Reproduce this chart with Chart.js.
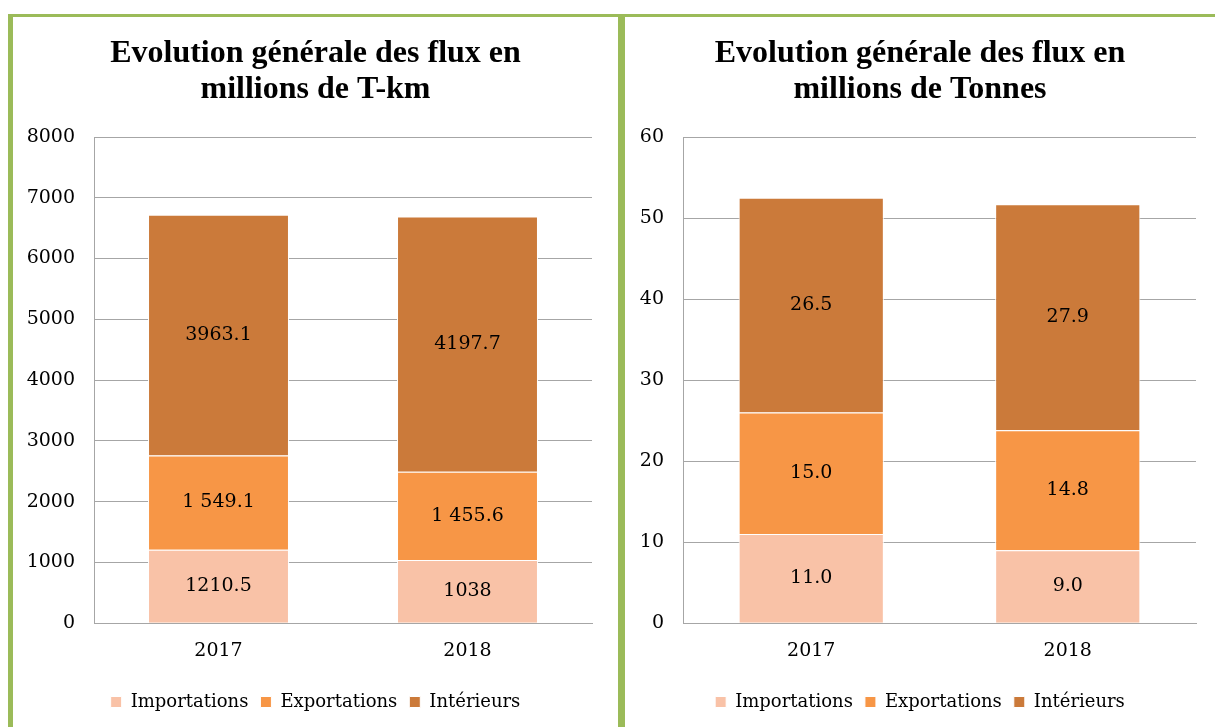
<!DOCTYPE html>
<html>
<head>
<meta charset="utf-8">
<script src="https://cdn.jsdelivr.net/npm/chart.js@4.4.1/dist/chart.umd.min.js"></script>
<style>
    body { margin: 0; background: #fff; width: 1215px; height: 727px; overflow: hidden; position: relative; }
    .bar { position: absolute; background: #9BBB59; }
    .panel { position: absolute; top: 17px; height: 710px; }
</style>
</head>
<body>
<div class="bar" style="left:8px;top:14px;width:1207px;height:3px"></div>
<div class="bar" style="left:8px;top:14px;width:5px;height:713px"></div>
<div class="bar" style="left:618px;top:14px;width:7px;height:713px"></div>
<div class="panel" style="left:13px;width:605px"><canvas id="tkmChart"></canvas></div>
<div class="panel" style="left:625px;width:590px"><canvas id="tonnesChart"></canvas></div>
<script>
const years = ["2017", "2018"];
const seriesNames = ["Importations", "Exportations", "Intérieurs"];
const seriesColors = ["#F9C2A7", "#F79646", "#CB7A3A"];

// millions de T-km
const tkmImport = [1210.5, 1038];
const tkmExport = [1549.1, 1455.6];
const tkmInterieur = [3963.1, 4197.7];
const tkmLabels = [["1210.5", "1038"], ["1 549.1", "1 455.6"], ["3963.1", "4197.7"]];

// millions de Tonnes
const tonImport = [11.0, 9.0];
const tonExport = [15.0, 14.8];
const tonInterieur = [26.5, 27.9];
const tonLabels = [["11.0", "9.0"], ["15.0", "14.8"], ["26.5", "27.9"]];

const serif = "'DejaVu Serif', serif";

// writes the value text in the middle of each bar piece
const segmentLabels = {
    id: 'segmentLabels',
    afterDatasetsDraw(chart, args, opts) {
        const ctx = chart.ctx;
        ctx.save();
        ctx.fillStyle = '#000';
        ctx.font = "19px " + serif;
        ctx.textAlign = 'center';
        ctx.textBaseline = 'middle';
        chart.data.datasets.forEach((ds, i) => {
            chart.getDatasetMeta(i).data.forEach((bar, j) => {
                ctx.fillText(opts.texts[i][j], bar.x, (bar.y + bar.base) / 2);
            });
        });
        ctx.restore();
    }
};

function makeChart(id, title, series, texts, maxY, step, axisWidth, rightGap) {
    return new Chart(id, {
        type: 'bar',
        data: {
            labels: years,
            datasets: series.map((values, i) => ({
                label: seriesNames[i],
                data: values,
                backgroundColor: seriesColors[i],
                borderColor: '#fff',
                borderWidth: 1,
                categoryPercentage: 0.566,
                barPercentage: 1
            }))
        },
        options: {
            responsive: true,
            maintainAspectRatio: false,
            animation: false,
            layout: { padding: { left: 0, right: 0, top: 0, bottom: 6 } },
            scales: {
                x: {
                    stacked: true,
                    afterFit: (scale) => { scale.height += 11; },
                    grid: { display: false },
                    border: { display: true, color: '#A6A6A6', width: 1 },
                    ticks: { color: '#000', font: { family: serif, size: 19 }, padding: 8 }
                },
                y: {
                    stacked: true,
                    min: 0,
                    max: maxY,
                    afterFit: (scale) => { scale.width = axisWidth; },
                    grid: { color: '#A6A6A6', drawTicks: false },
                    border: { display: true, color: '#A6A6A6', width: 1 },
                    ticks: {
                        stepSize: step,
                        color: '#000',
                        font: { family: serif, size: 19 },
                        padding: 19,
                        callback: (v) => String(v)
                    }
                },
                // empty axis on the right, only keeps the white margin
                spacer: {
                    type: 'linear',
                    position: 'right',
                    afterFit: (scale) => { scale.width = rightGap; },
                    grid: { display: false },
                    border: { display: false },
                    ticks: { display: false }
                }
            },
            plugins: {
                title: {
                    display: true,
                    text: title,
                    color: '#000',
                    font: { family: "'Liberation Serif', serif", size: 32, weight: 'bold', lineHeight: 1.125 },
                    padding: { top: 19, bottom: 29 }
                },
                legend: {
                    position: 'bottom',
                    labels: {
                        color: '#000',
                        font: { family: serif, size: 18 },
                        boxWidth: 11,
                        boxHeight: 11,
                        padding: 12
                    }
                },
                tooltip: { enabled: false },
                segmentLabels: { texts: texts }
            }
        },
        plugins: [segmentLabels]
    });
}

makeChart("tkmChart", ["Evolution générale des flux en", "millions de T-km"],
    [tkmImport, tkmExport, tkmInterieur], tkmLabels, 8000, 1000, 81, 26);
makeChart("tonnesChart", ["Evolution générale des flux en", "millions de Tonnes"],
    [tonImport, tonExport, tonInterieur], tonLabels, 60, 10, 58, 19);
</script>
</body>
</html>
